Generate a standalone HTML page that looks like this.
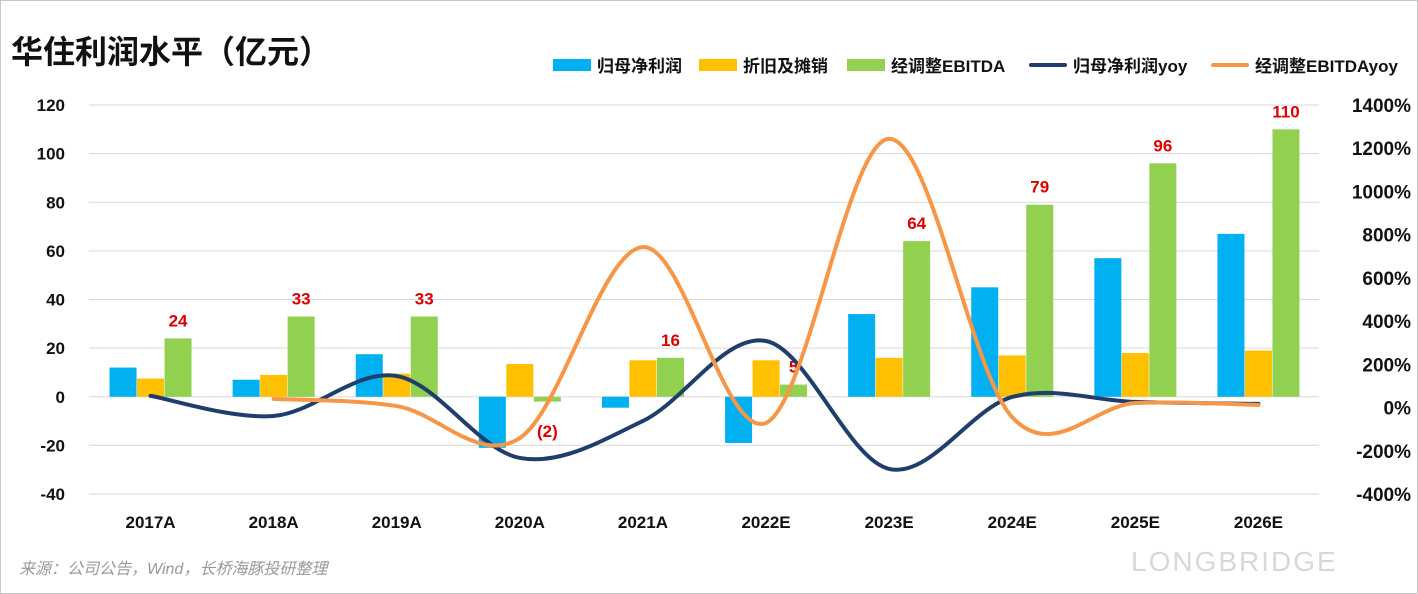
<!DOCTYPE html>
<html><head><meta charset="utf-8"><style>
body{margin:0;background:#fff;}
#wrap{position:relative;width:1416px;height:592px;border:1px solid #c8c8c8;background:#fff;overflow:hidden;font-family:"Liberation Sans","Noto Sans CJK SC",sans-serif;}
#title{position:absolute;left:10px;top:26px;font-size:32px;font-weight:bold;color:#111;}
#src{position:absolute;left:18px;top:554px;font-size:16px;color:#999;font-style:italic;}
.legend{position:absolute;top:51px;font-size:17px;font-weight:bold;color:#111;display:flex;align-items:center;}
.legend .sw{display:inline-block;width:38px;height:12px;margin-right:6px;}
.legend .ln{display:inline-block;width:38px;height:4px;margin-right:6px;border-radius:2px;}
#logo{position:absolute;left:1130px;top:545px;font-size:28px;color:#d8d8d8;letter-spacing:2px;}
</style></head><body>
<div id="wrap">
<div id="title">华住利润水平（亿元）</div>
<div class="legend" style="left:552px"><span class="sw" style="background:#00b0f0"></span>归母净利润</div>
<div class="legend" style="left:698px"><span class="sw" style="background:#ffc000"></span>折旧及摊销</div>
<div class="legend" style="left:846px"><span class="sw" style="background:#92d050"></span>经调整EBITDA</div>
<div class="legend" style="left:1028px"><span class="ln" style="background:#1f3e6e"></span>归母净利润yoy</div>
<div class="legend" style="left:1210px"><span class="ln" style="background:#f79646"></span>经调整EBITDAyoy</div>
<svg id="chart" width="1416" height="592" style="position:absolute;left:0;top:0"></svg>
<div id="src">来源：公司公告，Wind，长桥海豚投研整理</div>
<div id="logo">LONGBRIDGE</div>
</div>
<script>
const categories=["2017A","2018A","2019A","2020A","2021A","2022E","2023E","2024E","2025E","2026E"];
const netProfit=[12,7,17.5,-21,-4.5,-19,34,45,57,67];
const depAmort=[7.5,9,9.5,13.5,15,15,16,17,18,19];
const ebitda=[24,33,33,-2,16,5,64,79,96,110];
const ebitdaLabels=["24","33","33","(2)","16","5","64","79","96","110"];
const profitYoy=[54,-39,146,-233,-62,308,-284,49,26,17];
const ebitdaYoy=[null,40,7,-141,743,-71,1243,-45,21,12];
const leftTicks=[120,100,80,60,40,20,0,-20,-40];
const rightTicks=[1400,1200,1000,800,600,400,200,0,-200,-400];

const svg=document.getElementById('chart');
const NS='http://www.w3.org/2000/svg';
const x0=88,step=123.1;
const yTop=104,yBot=493;
const yL=v=>yTop+(120-v)/160*(yBot-yTop);
const yR=v=>yTop+(1400-v)/1800*(yBot-yTop);
const xC=i=>x0+step*(i+0.5);
function mk(tag,attrs){const e=document.createElementNS(NS,tag);for(const k in attrs)e.setAttribute(k,attrs[k]);svg.appendChild(e);return e;}

leftTicks.forEach(t=>{
 const g=mk('line',{x1:x0,x2:1318,y1:yL(t),y2:yL(t),stroke:'#d9d9d9','stroke-width':1});
 
 
 const tx=mk('text',{x:64,y:yL(t)+6,'text-anchor':'end','font-size':17,'font-weight':'bold',fill:'#111'});
 tx.textContent=t;
 
 
});
rightTicks.forEach(t=>{
 const tx=mk('text',{x:1410,y:yR(t)+7,'text-anchor':'end','font-size':19,'font-weight':'bold',fill:'#111'});
 tx.textContent=t+'%';
 
 
});
const bw=27;
const series=[[netProfit,'#00b0f0','bar-net-profit'],[depAmort,'#ffc000','bar-da'],[ebitda,'#92d050','bar-ebitda']];
categories.forEach((c,i)=>{
 series.forEach((s,j)=>{
  const v=s[0][i];const x=xC(i)-1.5*bw+j*bw+(j-1)*0.5;
  const r=mk('rect',{x:x,y:Math.min(yL(v),yL(0)),width:bw,height:Math.abs(yL(v)-yL(0)),fill:s[1]});
  
  
 });
 const tx=mk('text',{x:xC(i),y:527,'text-anchor':'middle','font-size':17,'font-weight':'bold',fill:'#111'});
 tx.textContent=c;
 
 
 const v=ebitda[i];
 const ly=v<0?yL(0)+40:yL(v)-12;
 const lb=mk('text',{x:xC(i)+bw+0.5,y:ly,'text-anchor':'middle','font-size':17,'font-weight':'bold',fill:'#e00000'});
 lb.textContent=ebitdaLabels[i];
 
 
});
function smoothPath(pts){
 let d='M'+pts[0][0]+','+pts[0][1];
 for(let i=0;i<pts.length-1;i++){
  const p0=pts[i-1]||pts[i],p1=pts[i],p2=pts[i+1],p3=pts[i+2]||p2;
  const t=1/6;
  const c1=[p1[0]+(p2[0]-p0[0])*t,p1[1]+(p2[1]-p0[1])*t];
  const c2=[p2[0]-(p3[0]-p1[0])*t,p2[1]-(p3[1]-p1[1])*t];
  d+=' C'+c1+' '+c2+' '+p2;
 }
 return d;
}
function line(arr,color,name){
 const pts=[];arr.forEach((v,i)=>{if(v!==null)pts.push([xC(i),yR(v)]);});
 const p=mk('path',{d:smoothPath(pts),fill:'none',stroke:color,'stroke-width':4,'stroke-linecap':'round'});
 
 
}
line(profitYoy,'#1f3e6e','line-profit-yoy');
line(ebitdaYoy,'#f79646','line-ebitda-yoy');
</script>
</body></html>
